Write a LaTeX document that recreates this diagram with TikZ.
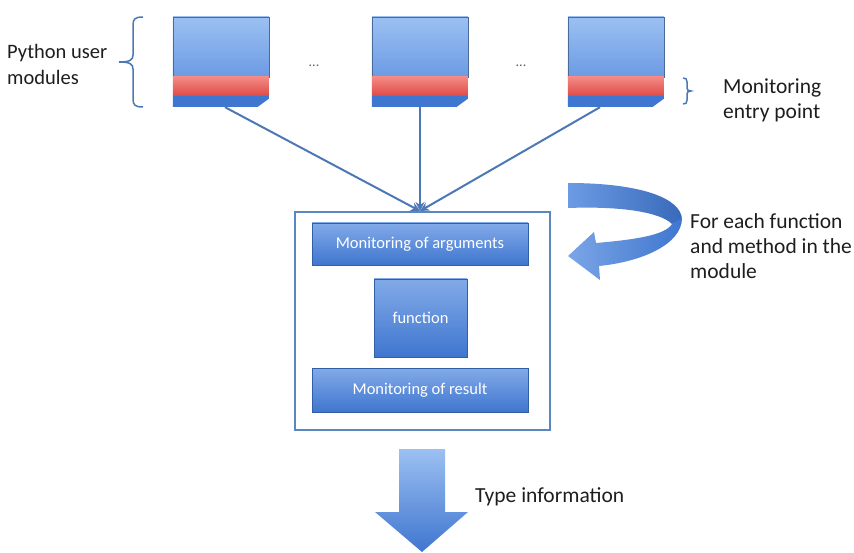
\documentclass[tikz,border=0pt]{standalone}
\usepackage{fontspec}
\setmainfont{Carlito}
\usetikzlibrary{arrows.meta,calc}
\definecolor{lineblue}{HTML}{4D78B6}
\definecolor{boxedge}{HTML}{5A86C2}
\definecolor{bluelight}{HTML}{9CC0F2}
\definecolor{bluemid}{HTML}{6C9BE4}
\definecolor{bluedark}{HTML}{3F76CF}
\definecolor{redlight}{HTML}{F58A86}
\definecolor{reddark}{HTML}{DE4B47}
\definecolor{textgray}{HTML}{1E1E1E}
\tikzset{
  x=1pt, y=-1pt,
  labeltext/.style={text=textgray, font=\fontsize{21.5}{25}\selectfont, align=left, inner sep=0pt},
  stagebox/.style={draw=bluedark!80!black, line width=0.6pt, top color=bluemid!85!white, bottom color=bluedark,
    text=white, font=\fontsize{16.5}{19}\selectfont, inner sep=0pt},
  modframe/.style={inner sep=0pt, minimum width=96, minimum height=90},
  feed/.style={draw=lineblue, line width=2pt, -{Stealth[length=9pt,width=9pt]}},
  ribbon/.style={draw=none, left color=bluemid, right color=bluedark!90!black},
}
\begin{document}
\begin{tikzpicture}
\useasboundingbox (0,0) rectangle (854,553);
\fill[white] (0,0) rectangle (854,553);

% user modules: page body, red entry band, folded lower strip
\foreach \n/\x in {m1/173, m2/372, m3/568}{
  \node[modframe] (\n) at (\x+48,62) {};
  \shade[top color=bluelight, bottom color=bluemid] (\n.north west) rectangle ++(96,60);
  \draw[boxedge!80!black, line width=0.4pt] (\n.north west) rectangle ++(96,60);
  \shade[top color=redlight, bottom color=reddark] ($(\n.north west)+(0,60)$) rectangle ++(96,19);
  \fill[bluedark] ($(\n.north west)+(0,79)$) -- ++(96,0) -- ++(0,3) -- ++(-11,8) -- ++(-85,0) -- cycle;
}
\node[text=textgray!70, font=\fontsize{14}{16}\selectfont, inner sep=0pt] (dots1) at (314,66) {...};
\node[text=textgray!70, font=\fontsize{14}{16}\selectfont, inner sep=0pt] (dots2) at (521,66) {...};

% braces and their labels
\draw[lineblue, line width=1.5pt] (143,17) .. controls (135,17) and (133,19) .. (133,25) -- (133,55)
  .. controls (133,60) and (130,62) .. (119,62) .. controls (130,62) and (133,64) .. (133,69)
  -- (133,99) .. controls (133,105) and (135,107) .. (143,107);
\draw[lineblue, line width=1.5pt] (683,78) .. controls (686,78) and (687,79) .. (687,82) -- (687,88)
  .. controls (687,90) and (688,91) .. (691,91) .. controls (688,91) and (687,92) .. (687,94)
  -- (687,100) .. controls (687,103) and (686,104) .. (683,104);
\node[labeltext, anchor=west, font=\fontsize{20.5}{26}\selectfont] (lblmods) at (7,64) {Python user\\modules};
\node[labeltext, anchor=west] (lblentry) at (723,100) {Monitoring\\entry point};

% monitoring wrapper
\node[draw=boxedge, line width=1.6pt, minimum width=255, minimum height=218, inner sep=0pt] (wrap) at (422.5,321) {};
\coordinate (hub) at (420,211);
\node[stagebox, minimum width=216, minimum height=42] (args) at (420,244) {Monitoring of arguments};
\node[stagebox, minimum width=93, minimum height=78] (func) at (420.5,318) {function};
\node[stagebox, minimum width=216, minimum height=44] (res) at (420,390) {Monitoring of result};

\draw[feed] ($(m1.south)+(4,0)$) -- (hub);
\draw[feed] (m2.south) -- (hub);
\draw[feed] ($(m3.south)+(-16,0)$) -- (hub);

% loop arrow: back band, then front band with head
\shade[ribbon] (568,183) .. controls (640,183) and (682,198) .. (682,220)
  -- (672,224) .. controls (660,212) and (620,206) .. (568,208) -- cycle;
\shade[left color=bluemid!90!white, right color=bluedark] (682,218) .. controls (682,245) and (640,262) .. (599,266)
  -- (600,280) -- (568,256) -- (594,232) -- (596,243)
  .. controls (630,240) and (665,236) .. (672,224) -- cycle;
\node[labeltext, anchor=west] (lblloop) at (690,246) {For each function\\and method in the\\module};

% result arrow
\shade[top color=bluelight, bottom color=bluedark] (399,449) -- (445,449) -- (445,512) -- (468,512)
  -- (422,552) -- (375,512) -- (399,512) -- cycle;
\node[labeltext, anchor=west] (lbltype) at (475,497) {Type information};
\end{tikzpicture}
\end{document}
